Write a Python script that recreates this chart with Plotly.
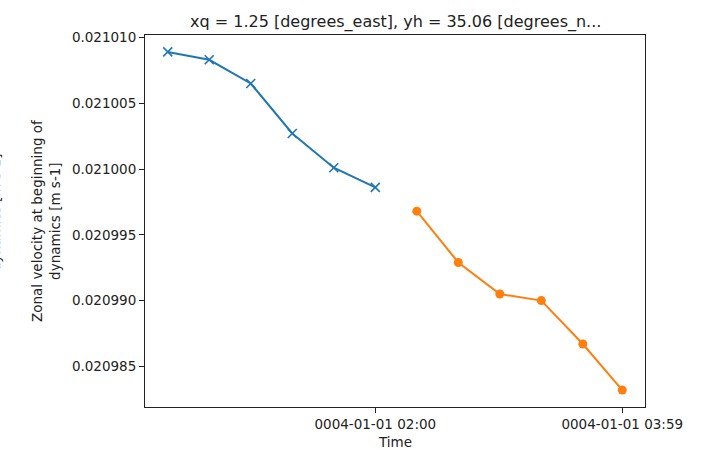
import plotly.graph_objects as go

# Zonal velocity at the start of dynamics, two consecutive model segments
times_a = ["0004-01-01 00:20", "0004-01-01 00:40", "0004-01-01 01:00",
           "0004-01-01 01:20", "0004-01-01 01:40", "0004-01-01 02:00"]
u_a = [0.0210089, 0.0210083, 0.0210065, 0.0210027, 0.0210001, 0.0209986]

times_b = ["0004-01-01 02:20", "0004-01-01 02:40", "0004-01-01 03:00",
           "0004-01-01 03:20", "0004-01-01 03:40", "0004-01-01 03:59"]
u_b = [0.0209968, 0.0209929, 0.0209905, 0.0209900, 0.0209867, 0.0209832]

x_ticks = ["0004-01-01 02:00", "0004-01-01 03:59"]
y_ticks = [0.020985, 0.020990, 0.020995, 0.021000, 0.021005, 0.021010]

title = "xq = 1.25 [degrees_east], yh = 35.06 [degrees_n..."
x_label = "Time"
y_label = "Zonal velocity at beginning of<br>dynamics [m s-1]"


def minutes(stamp):
    # minutes since the start of the day (year 0004 is outside normal datetime use)
    hh, mm = stamp.split(" ")[1].split(":")
    return int(hh) * 60 + int(mm)


xa = [minutes(t) for t in times_a]
xb = [minutes(t) for t in times_b]
xt = [minutes(t) for t in x_ticks]

allx = xa + xb
ally = u_a + u_b
xpad = 0.05 * (max(allx) - min(allx))
ypad = 0.05 * (max(ally) - min(ally))

BLUE = "#1f77b4"
ORANGE = "#ff7f0e"
FONT = "DejaVu Sans"
TICK_SIZE = 13.5

# plot area geometry in pixels (left 145, right 645, top 35, bottom 407)
PLOT_H = 372

fig = go.Figure()
fig.add_trace(go.Scatter(
    x=xa, y=u_a, mode="lines+markers",
    line=dict(color=BLUE, width=2),
    marker=dict(symbol="x-thin", size=9, line=dict(color=BLUE, width=1.6)),
))
fig.add_trace(go.Scatter(
    x=xb, y=u_b, mode="lines+markers",
    line=dict(color=ORANGE, width=2),
    marker=dict(symbol="circle", size=9, color=ORANGE),
))

axis_common = dict(
    showline=True, linecolor="#222", linewidth=1, mirror=True,
    ticks="outside", ticklen=5, tickwidth=1, tickcolor="#222",
    showgrid=False, zeroline=False, automargin=False,
    tickfont=dict(family=FONT, size=TICK_SIZE, color="#222"),
)

fig.update_layout(
    width=715, height=449,
    margin=dict(l=145, r=70, t=35, b=42),
    paper_bgcolor="white", plot_bgcolor="white",
    showlegend=False,
    font=dict(family=FONT, color="#222"),
    xaxis=dict(
        axis_common,
        range=[min(allx) - xpad, max(allx) + xpad],
        tickvals=xt, ticktext=x_ticks, ticklabelstandoff=0,
    ),
    yaxis=dict(
        axis_common,
        range=[min(ally) - ypad, max(ally) + ypad],
        tickvals=y_ticks, tickformat=".6f",
    ),
    annotations=[
        dict(text=title, xref="paper", yref="paper", x=0.5, y=1.0,
             xanchor="center", yanchor="bottom", yshift=1, showarrow=False,
             font=dict(family=FONT, size=16, color="#222")),
        dict(text=x_label, xref="paper", yref="paper", x=0.5, y=-35 / PLOT_H,
             xanchor="center", yanchor="middle", showarrow=False, borderpad=0,
             font=dict(family=FONT, size=TICK_SIZE, color="#222")),
        dict(text=y_label, xref="paper", yref="paper", x=(46 - 145) / 500, y=0.5,
             xanchor="center", yanchor="middle", textangle=-90, showarrow=False,
             font=dict(family=FONT, size=TICK_SIZE, color="#222")),
        dict(text="dynamics [m s-1]", xref="paper", yref="paper", x=(-5 - 145) / 500,
             y=(PLOT_H - 177) / PLOT_H, xanchor="center", yanchor="middle", textangle=-90,
             showarrow=False, font=dict(family=FONT, size=TICK_SIZE, color="#222")),
    ],
)

fig.write_html("out.html")
